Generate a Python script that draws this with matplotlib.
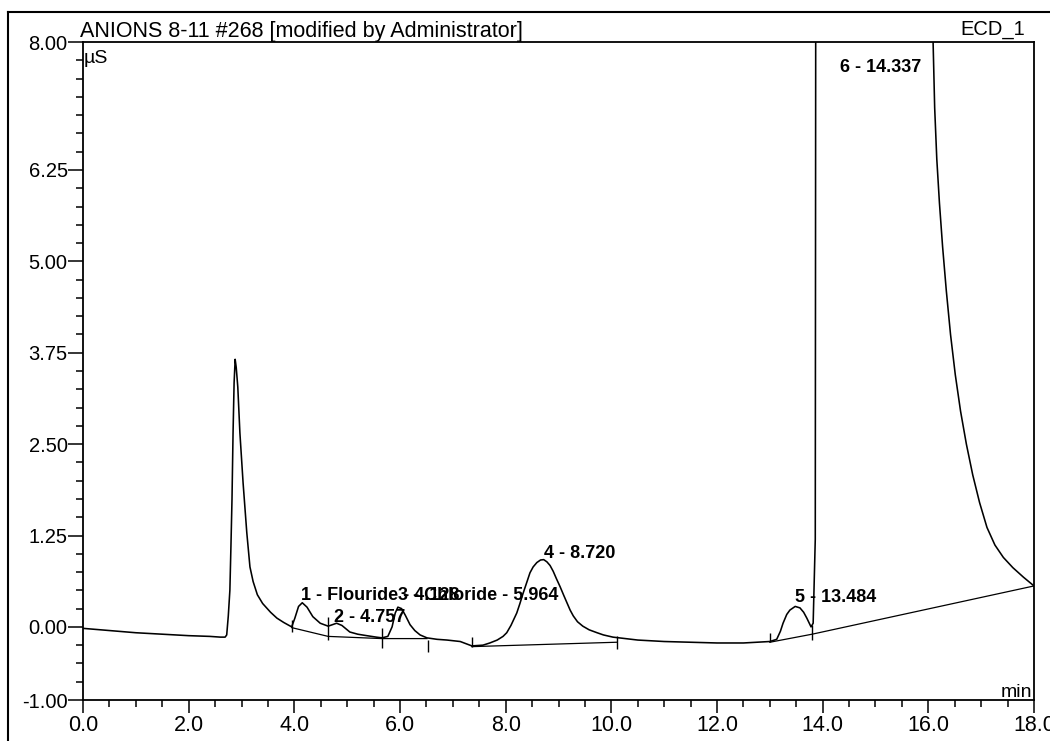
import numpy as np
import matplotlib
matplotlib.use("Agg")
import matplotlib.pyplot as plt
from matplotlib.lines import Line2D
from matplotlib.ticker import FixedLocator, MultipleLocator, FormatStrFormatter

plt.rcParams["font.family"] = ["Liberation Sans", "DejaVu Sans"]

# Detector trace (retention time in min, conductivity in µS)
time_min = [0.00, 0.50, 1.00, 1.50, 2.00, 2.40, 2.60, 2.69, 2.72, 2.75,
            2.78, 2.80, 2.82, 2.84, 2.86, 2.88, 2.90, 2.93, 2.97, 3.03,
            3.10, 3.16, 3.22, 3.30, 3.40, 3.55, 3.67, 3.80, 3.95, 4.01,
            4.08, 4.15, 4.24, 4.35, 4.49, 4.64, 4.72, 4.80, 4.90, 5.05,
            5.20, 5.37, 5.55, 5.66, 5.77, 5.85, 5.91, 5.96, 6.03, 6.10,
            6.19, 6.28, 6.38, 6.51, 6.70, 6.89, 7.14, 7.36, 7.57, 7.70,
            7.84, 7.95, 8.02, 8.10, 8.21, 8.27, 8.33, 8.40, 8.46, 8.52,
            8.59, 8.66, 8.72, 8.78, 8.84, 8.90, 8.96, 9.03, 9.10, 9.16,
            9.22, 9.28, 9.36, 9.46, 9.58, 9.73, 9.85, 10.03, 10.50, 11.00,
            11.50, 12.00, 12.50, 13.00, 13.13, 13.20, 13.25, 13.32, 13.38, 13.48,
            13.57, 13.64, 13.70, 13.78, 13.82, 13.86, 13.87, 14.34, 16.05, 16.09,
            16.12, 16.16, 16.21, 16.27, 16.34, 16.42, 16.51, 16.61, 16.72, 16.84,
            16.97, 17.11, 17.26, 17.42, 17.60, 17.80, 18.00]
signal_us = [-0.02, -0.05, -0.08, -0.10, -0.12, -0.13, -0.14, -0.14, -0.11, 0.15,
             0.50, 1.10, 1.74, 2.65, 3.34, 3.66, 3.55, 3.28, 2.65, 1.97,
             1.29, 0.82, 0.62, 0.44, 0.32, 0.20, 0.12, 0.06, 0.00, 0.12,
             0.28, 0.33, 0.27, 0.14, 0.05, 0.01, 0.03, 0.05, 0.02, -0.07,
             -0.10, -0.12, -0.14, -0.15, -0.13, 0.00, 0.19, 0.27, 0.25, 0.16,
             0.03, -0.05, -0.11, -0.15, -0.17, -0.18, -0.20, -0.26, -0.25, -0.22,
             -0.18, -0.13, -0.08, 0.02, 0.19, 0.32, 0.46, 0.61, 0.74, 0.82,
             0.88, 0.915, 0.92, 0.89, 0.84, 0.76, 0.66, 0.55, 0.43, 0.33,
             0.23, 0.15, 0.07, 0.01, -0.04, -0.08, -0.11, -0.14, -0.18, -0.20,
             -0.21, -0.22, -0.22, -0.20, -0.17, -0.06, 0.05, 0.17, 0.23, 0.28,
             0.26, 0.20, 0.12, 0.00, 0.05, 1.20, 9.50, 20.0, 9.00, 8.00,
             7.10, 6.40, 5.80, 5.20, 4.60, 4.00, 3.45, 2.95, 2.50, 2.08,
             1.70, 1.36, 1.12, 0.95, 0.81, 0.68, 0.56]
assert len(time_min) == len(signal_us)

# Integration baselines drawn under the peaks
baseline_runs = [
    ([3.95, 4.64, 5.66, 6.51], [-0.01, -0.13, -0.16, -0.16]),
    ([7.36, 10.10], [-0.27, -0.21]),
    ([13.00, 13.80, 18.00], [-0.21, -0.10, 0.56]),
]

# Peak start/end delimiters: time, lower and upper end of the mark
delim_time = [3.95, 4.64, 5.66, 6.53, 7.36, 10.10, 13.00, 13.80]
delim_low = [-0.07, -0.18, -0.29, -0.34, -0.27, -0.30, -0.21, -0.18]
delim_high = [0.10, 0.14, -0.01, -0.18, -0.14, -0.12, -0.08, 0.03]

# Peak annotations
peak_labels = ["1 - Flouride - 4.128", "2 - 4.757", "3 - Chloride - 5.964",
               "4 - 8.720", "5 - 13.484", "6 - 14.337"]
peak_time = [4.128, 4.757, 5.964, 8.720, 13.484, 14.337]
peak_label_y = [0.37, 0.07, 0.37, 0.94, 0.34, 7.59]

y_major = [-1.00, 0.00, 1.25, 2.50, 3.75, 5.00, 6.25, 8.00]

W, H = 1050, 741
fig = plt.figure(figsize=(W / 100, H / 100), dpi=100)
fig.patch.set_facecolor("white")
ax = fig.add_axes([83 / W, 1 - 700 / H, (1034 - 83) / W, (700 - 42) / H])

ax.plot(time_min, signal_us, color="black", lw=1.15, solid_joinstyle="round")
for bt, by in baseline_runs:
    ax.plot(bt, by, color="black", lw=0.9)
ax.vlines(delim_time, delim_low, delim_high, color="black", lw=1.0)

for lab, t, yl in zip(peak_labels, peak_time, peak_label_y):
    ax.text(t, yl, lab, fontsize=13, fontweight="bold", ha="left", va="baseline")

ax.set_xlim(0, 18)
ax.set_ylim(-1, 8)
ax.xaxis.set_major_locator(MultipleLocator(2.0))
ax.xaxis.set_minor_locator(MultipleLocator(0.5))
ax.xaxis.set_major_formatter(FormatStrFormatter("%.1f"))
ax.yaxis.set_major_locator(FixedLocator(y_major))
ax.yaxis.set_minor_locator(MultipleLocator(0.25))
ax.yaxis.set_major_formatter(FormatStrFormatter("%.2f"))

ax.tick_params(axis="both", which="both", direction="out", color="black", width=1.1,
               top=False, right=False)
ax.tick_params(axis="x", which="major", length=9.5, labelsize=15.5, pad=1)
ax.tick_params(axis="y", which="major", length=11, labelsize=14.5, pad=0)
ax.tick_params(axis="both", which="minor", length=5)
for sp in ax.spines.values():
    sp.set_linewidth(1.3)
    sp.set_color("black")

ax.text(1 / 951, 0.988, "µS", transform=ax.transAxes, fontsize=14, ha="left", va="top")
ax.text(0.998, 0.005, "min", transform=ax.transAxes, fontsize=14, ha="right", va="baseline")

fig.text(80 / W, 1 - 37 / H, "ANIONS 8-11 #268 [modified by Administrator]",
         fontsize=15.5, ha="left", va="baseline")
fig.text(1025 / W, 1 - 35 / H, "ECD_1", fontsize=14.5, ha="right", va="baseline")

# Outer frame of the report page
fig.add_artist(Line2D([8 / W, 1.0], [1 - 12 / H, 1 - 12 / H], transform=fig.transFigure,
                      color="black", lw=1.5))
fig.add_artist(Line2D([8 / W, 8 / W], [1 - 12 / H, 0.0], transform=fig.transFigure,
                      color="black", lw=1.5))

fig.savefig("out.png", dpi=100)
